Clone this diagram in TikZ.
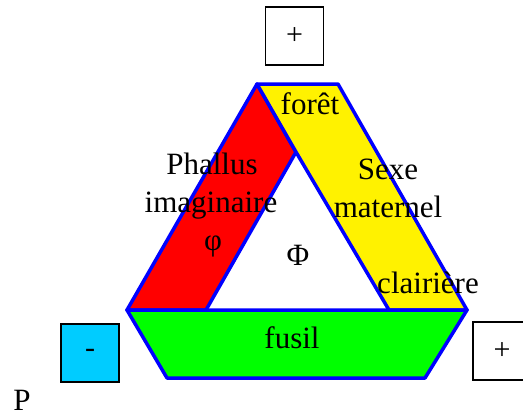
\documentclass[tikz,border=0pt]{standalone}
\usepackage{fontspec}
\setmainfont{Liberation Serif}
\definecolor{bandblue}{RGB}{0,0,255}
\definecolor{minuscyan}{RGB}{0,204,255}
\begin{document}
\begin{tikzpicture}[x=1pt,y=-1pt,
  band/.style={draw=bandblue,line width=3.5pt,line join=round},
  lbl/.style={font=\fontsize{31}{36}\selectfont,inner sep=0pt,anchor=base},
  signbox/.style={draw=black,line width=1.8pt,minimum width=58pt,minimum height=58pt,inner sep=0pt,font=\fontsize{30}{36}\selectfont}]
\useasboundingbox (0,0) rectangle (523,416);
% coordinates
\coordinate (TL) at (257,84);
\coordinate (TR) at (338,84);
\coordinate (BL) at (127,310);
\coordinate (BR) at (467,310);
\coordinate (IA) at (296,152);
\coordinate (IL) at (206,310);
\coordinate (IR) at (389,310);
\coordinate (GL) at (167,378);
\coordinate (GR) at (425,378);
% bands
\filldraw[band,fill=red] (TL) -- (IA) -- (IL) -- (BL) -- cycle;
\filldraw[band,fill=yellow] (TL) -- (TR) -- (BR) -- (IR) -- (IA) -- cycle;
\filldraw[band,fill=green] (BL) -- (BR) -- (GR) -- (GL) -- cycle;
% labels
\node[lbl] (foret) at (310,114) {forêt};
\node[lbl] (phallus) at (212,174) {Phallus};
\node[lbl] (imag) at (211,212) {imaginaire};
\node[lbl] (phi) at (213,250) {φ};
\node[lbl] (sexe) at (388,179) {Sexe};
\node[lbl] (mat) at (388,217) {maternel};
\node[lbl] (Phi) at (298,265) {Φ};
\node[lbl] (clair) at (428,293) {clairière};
\node[lbl] (fusil) at (292,348) {fusil};
\node[lbl] (P) at (22,410) {P};
% boxes
\node[signbox] (plustop) at (294.5,36) {+};
\begin{scope}
\clip (0,0) rectangle (523,416);
\node[signbox] (plusright) at (502,351) {+};
\end{scope}
\node[signbox,fill=minuscyan] (minus) at (90,353) {-};
\end{tikzpicture}
\end{document}
